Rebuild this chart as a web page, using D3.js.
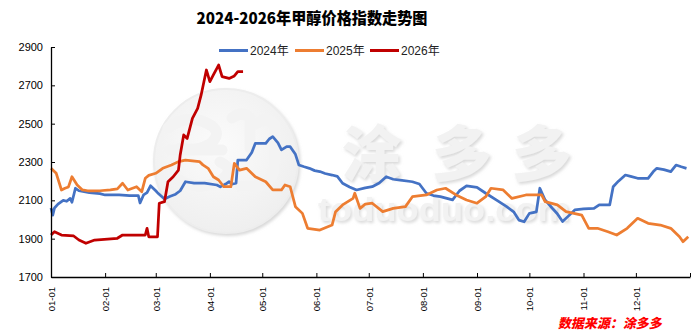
<!DOCTYPE html>
<html>
<head>
<meta charset="utf-8">
<script src="https://cdn.jsdelivr.net/npm/d3@7"></script>
<style>
  html, body { margin: 0; padding: 0; background: #fff; }
  svg { display: block; }
</style>
</head>
<body>
<svg id="chart" width="698" height="335"></svg>
<script>
// Methanol price index, one line per year, on a shared MM-DD axis.
const monthTicks = ["01-01","02-01","03-01","04-01","05-01","06-01","07-01","08-01","09-01","10-01","11-01","12-01"];
const yTicks = [1700, 1900, 2100, 2300, 2500, 2700, 2900];
const seriesNames = ["2024年", "2025年", "2026年"];
const seriesColors = ["#4472C4", "#ED7D31", "#C00000"];

const dates2024 = ["01-01","01-02","01-03","01-05","01-08","01-10","01-12","01-13","01-15","01-17","01-23","01-29","02-01","02-09","02-15","02-20","02-21","02-23","02-25","02-27","03-01","03-02","03-06","03-09","03-12","03-15","03-18","03-23","03-29","04-05","04-07","04-10","04-12","04-14","04-16","04-17","04-22","04-25","04-27","05-03","05-05","05-07","05-10","05-12","05-15","05-17","05-20","05-22","05-25","05-28","05-31","06-03","06-06","06-10","06-13","06-16","06-20","06-24","06-29","07-03","07-07","07-11","07-15","07-19","07-26","07-30","08-03","08-07","08-11","08-18","08-22","08-26","09-01","09-06","09-12","09-18","09-22","09-25","09-28","10-01","10-05","10-07","10-10","10-14","10-17","10-20","10-23","10-27","11-01","11-07","11-10","11-16","11-18","11-21","11-25","11-28","12-02","12-08","12-11","12-13","12-17","12-21","12-24","12-27","12-30"];
const values2024 = [2060,2023,2060,2080,2100,2095,2110,2090,2163,2150,2140,2135,2128,2128,2125,2125,2086,2128,2140,2176,2150,2140,2107,2120,2130,2150,2197,2190,2190,2180,2170,2185,2197,2185,2190,2310,2310,2350,2397,2397,2420,2432,2400,2363,2380,2380,2340,2284,2275,2267,2255,2250,2240,2232,2225,2189,2170,2154,2165,2171,2190,2223,2210,2206,2197,2185,2137,2125,2119,2102,2150,2175,2168,2137,2102,2067,2040,1997,1988,2032,2040,2163,2102,2060,2030,1989,2015,2050,2055,2058,2076,2076,2171,2200,2232,2225,2215,2215,2250,2267,2260,2250,2284,2275,2267];

const dates2025 = ["01-01","01-04","01-07","01-09","01-11","01-13","01-16","01-19","01-22","01-29","02-04","02-08","02-11","02-14","02-19","02-22","02-24","02-26","03-01","03-05","03-10","03-14","03-18","03-26","03-28","03-31","04-03","04-06","04-09","04-13","04-15","04-18","04-22","04-27","05-03","05-07","05-12","05-14","05-17","05-20","05-24","05-27","06-03","06-10","06-12","06-16","06-22","06-23","06-26","06-29","07-03","07-09","07-15","07-22","07-26","08-03","08-09","08-14","08-20","08-26","09-01","09-06","09-09","09-16","09-21","09-29","10-08","10-10","10-17","10-22","10-31","11-04","11-09","11-15","11-20","11-26","12-02","12-08","12-15","12-21","12-26","12-28","12-31"];
const values2025 = [2267,2241,2154,2163,2170,2223,2180,2154,2150,2150,2155,2160,2189,2154,2171,2145,2215,2230,2241,2267,2284,2302,2310,2302,2285,2267,2223,2206,2171,2171,2293,2258,2267,2223,2197,2154,2154,2180,2171,2067,2032,1954,1945,1971,2041,2076,2110,2137,2058,2080,2085,2041,2058,2067,2119,2128,2154,2163,2128,2102,2085,2119,2163,2154,2110,2128,2128,2093,2076,2041,2023,1954,1954,1936,1919,1954,2006,1980,1971,1954,1910,1884,1910];

const dates2026 = ["01-01","01-03","01-07","01-14","01-17","01-21","01-26","02-08","02-11","02-24","02-25","02-26","03-02","03-03","03-06","03-08","03-11","03-14","03-15","03-17","03-19","03-22","03-25","03-27","03-30","04-01","04-03","04-06","04-08","04-12","04-15","04-17","04-20"];
const values2026 = [1919,1936,1919,1914,1893,1876,1893,1902,1919,1919,1954,1910,1910,2085,2093,2197,2223,2258,2337,2441,2423,2528,2580,2650,2780,2719,2754,2806,2745,2736,2749,2771,2771];

const seriesDates = [dates2024, dates2025, dates2026];
const seriesValues = [values2024, values2025, values2026];

// all years share one leap-year calendar so that every MM-DD has a slot
const parseMD = md => d3.timeParse("%Y-%m-%d")("2024-" + md);

const svg = d3.select("#chart");
const plotLeft = 51, plotRight = 690, plotTop = 47, plotBottom = 277;

const x = d3.scaleTime()
  .domain([parseMD("01-01"), new Date(2025, 0, 1)])
  .range([plotLeft, plotRight]);
const y = d3.scaleLinear().domain([1700, 2900]).range([plotBottom, plotTop]);

// ---- watermark (faint embossed logo behind the plot) ----
const defs = svg.append("defs");
const shadow = defs.append("filter").attr("id", "emboss")
  .attr("x", "-20%").attr("y", "-20%").attr("width", "140%").attr("height", "140%");
shadow.append("feDropShadow").attr("dx", 1.5).attr("dy", 2).attr("stdDeviation", 1.6)
  .attr("flood-color", "#cccccc").attr("flood-opacity", 0.75);
const grad = defs.append("radialGradient").attr("id", "disc").attr("cx", "45%").attr("cy", "40%").attr("r", "65%");
grad.append("stop").attr("offset", "0%").attr("stop-color", "#fbfbfb");
grad.append("stop").attr("offset", "100%").attr("stop-color", "#eeeeee");

const wm = svg.append("g").attr("class", "watermark").attr("filter", "url(#emboss)");
wm.append("circle").attr("cx", 226).attr("cy", 161).attr("r", 72)
  .attr("fill", "url(#disc)").attr("stroke", "#ededed").attr("stroke-width", 2);
// stylised swirl inside the disc
wm.append("path")
  .attr("d", "M168,128 q22,-16 44,-2 q10,8 -2,18 q-14,8 -30,4 M170,150 h52 M176,178 q24,16 48,0 q10,-10 -4,-16 M232,118 q10,-8 18,0 v30 M256,124 q10,-8 18,0 v40 q0,20 -20,22 h-14")
  .attr("fill", "none").attr("stroke", "#f3f3f3").attr("stroke-width", 11).attr("stroke-linecap", "round");
const wmChars = ["涂", "多", "多"];
const wmCenters = [372, 462, 542];
wm.selectAll("text.wmc").data(wmChars).join("text")
  .attr("class", "wmc")
  .attr("x", (d, i) => wmCenters[i]).attr("y", 176)
  .attr("text-anchor", "middle")
  .attr("font-family", "Noto Sans CJK SC").attr("font-weight", 900).attr("font-size", 60)
  .attr("fill", "#f2f2f2")
  .text(d => d);
wm.append("text")
  .attr("x", 318).attr("y", 221)
  .attr("textLength", 252).attr("lengthAdjust", "spacingAndGlyphs")
  .attr("font-family", "Liberation Sans, Arial, sans-serif").attr("font-weight", 700).attr("font-size", 34)
  .attr("fill", "#f2f2f2")
  .text("toduoduo.com");

// ---- title ----
svg.append("text")
  .attr("x", 312).attr("y", 24)
  .attr("text-anchor", "middle")
  .attr("font-family", "Noto Sans CJK SC").attr("font-weight", 900).attr("font-size", 16)
  .attr("textLength", 231).attr("lengthAdjust", "spacingAndGlyphs")
  .attr("fill", "#000")
  .text("2024-2026年甲醇价格指数走势图");

// ---- lines ----
const line = d3.line().x(d => x(d.date)).y(d => y(d.value));
seriesNames.forEach((name, i) => {
  const pts = seriesDates[i].map((md, j) => ({ date: parseMD(md), value: seriesValues[i][j] }));
  svg.append("path")
    .datum(pts)
    .attr("fill", "none")
    .attr("stroke", seriesColors[i])
    .attr("stroke-width", 2.75)
    .attr("stroke-linejoin", "round")
    .attr("d", line);
});

// ---- axes ----
const yAxis = d3.axisLeft(y).tickValues(yTicks).tickFormat(d3.format("d"))
  .tickSizeInner(-4).tickSizeOuter(0).tickPadding(8);
const gy = svg.append("g").attr("transform", `translate(${plotLeft},0)`).call(yAxis);
gy.select(".domain").attr("stroke", "#000").attr("stroke-width", 1.3);
gy.selectAll(".tick line").attr("stroke", "#000");
gy.selectAll(".tick text")
  .attr("font-family", "Liberation Sans, Arial, sans-serif").attr("font-size", 11).attr("fill", "#000");

const tickDates = monthTicks.map(parseMD).concat([new Date(2025, 0, 1)]);
const xAxis = d3.axisBottom(x).tickValues(tickDates).tickSizeInner(-4).tickSizeOuter(0)
  .tickFormat((d, i) => i < monthTicks.length ? monthTicks[i] : "");
const gx = svg.append("g").attr("transform", `translate(0,${plotBottom})`).call(xAxis);
gx.select(".domain").attr("stroke", "#000").attr("stroke-width", 1.3);
gx.selectAll(".tick line").attr("stroke", "#000");
gx.selectAll(".tick text")
  .attr("font-family", "Liberation Sans, Arial, sans-serif").attr("font-size", 9.5).attr("fill", "#000")
  .attr("transform", "rotate(-90)")
  .attr("text-anchor", "end")
  .attr("x", -10).attr("y", 0).attr("dy", "0.35em");

// ---- legend ----
const legendX = [219, 295, 370];
const lg = svg.append("g").attr("class", "legend");
seriesNames.forEach((name, i) => {
  lg.append("line")
    .attr("x1", legendX[i]).attr("x2", legendX[i] + 29)
    .attr("y1", 50.5).attr("y2", 50.5)
    .attr("stroke", seriesColors[i]).attr("stroke-width", 3);
  lg.append("text")
    .attr("x", legendX[i] + 31).attr("y", 54.5)
    .attr("font-family", "Liberation Sans, Noto Sans CJK SC, sans-serif").attr("font-size", 12)
    .attr("fill", "#222")
    .text(name);
});

// ---- source note ----
svg.append("text")
  .attr("transform", "translate(558,328) skewX(-12)")
  .attr("font-family", "Noto Sans CJK SC").attr("font-weight", 900).attr("font-size", 13)
  .attr("fill", "#FF0000")
  .text("数据来源：涂多多");
</script>
</body>
</html>
